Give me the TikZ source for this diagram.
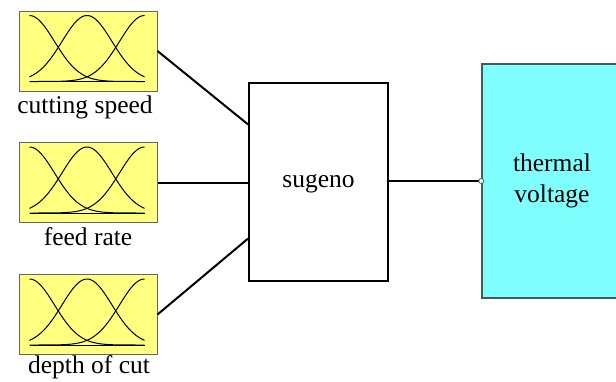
\documentclass[tikz,border=0pt]{standalone}
\usepackage{fontspec}
\setmainfont{Liberation Serif}
\newfontfamily\tnrfont{Liberation Serif}
\usetikzlibrary{calc}
\definecolor{mfyellow}{RGB}{255,255,128}
\definecolor{outcyan}{RGB}{128,255,255}
\definecolor{boxgray}{RGB}{100,100,100}
\definecolor{outgray}{RGB}{70,90,90}
\tikzset{
  inbox/.style={draw=boxgray, line width=1pt, fill=mfyellow, minimum width=138pt, minimum height=80pt, inner sep=0pt},
  mf/.style={line width=1pt, black},
  lbl/.style={font=\tnrfont\fontsize{25.5}{30}\selectfont, anchor=base, inner sep=0pt},
  sysbox/.style={draw=black, line width=2pt, fill=white, minimum width=139pt, minimum height=198pt, inner sep=0pt, text height=12pt, text depth=2pt, font=\tnrfont\fontsize{25.5}{30}\selectfont},
  outbox/.style={draw=outgray, line width=1.5pt, fill=outcyan, minimum width=140pt, minimum height=234pt, inner sep=0pt, align=center, font=\tnrfont\fontsize{25.5}{31}\selectfont},
  conn/.style={line width=2pt, black},
  pinmark/.style={circle, draw=outgray, fill=white, inner sep=0pt, minimum size=5pt, line width=0.8pt}
}
\begin{document}
\begin{tikzpicture}[x=1pt,y=-1pt]
\useasboundingbox (0,0) rectangle (616,381);
\node[inbox] (in1) at (88,51) {};
\node[inbox] (in2) at (88,182.5) {};
\node[inbox] (in3) at (88,314.5) {};
\foreach \n in {in1,in2,in3} {
  \begin{scope}[shift={(\n.north west)}]
    \draw[mf] plot[domain=11:126, samples=60] (\x, {71-66*exp(-((\x-11)^2)/(2*25^2))});
    \draw[mf] plot[domain=11:126, samples=60] (\x, {71-66*exp(-((\x-68.5)^2)/(2*25^2))});
    \draw[mf] plot[domain=11:126, samples=60] (\x, {71-66*exp(-((\x-126)^2)/(2*25^2))});
    \draw[mf] (11,71) -- (126,71);
  \end{scope}
}
\node[lbl] (l1) at (85,113) {cutting speed};
\node[lbl] (l2) at (88,245) {feed rate};
\node[lbl] (l3) at (89,373) {depth of cut};
\node[sysbox] (sug) at (318.5,182) {sugeno};
\node[outbox] (out) at (552,181) {thermal\\voltage};
\draw[conn] (in1.east) -- ($(sug.north west)!0.212!(sug.south west)$);
\draw[conn] (in2.east) -- (in2.east -| sug.west);
\draw[conn] (in3.east) -- ($(sug.north west)!0.783!(sug.south west)$);
\draw[conn] (sug.east |- out.west) -- (out.west);
\node[pinmark] (pin) at (out.west) {};
\end{tikzpicture}
\end{document}
